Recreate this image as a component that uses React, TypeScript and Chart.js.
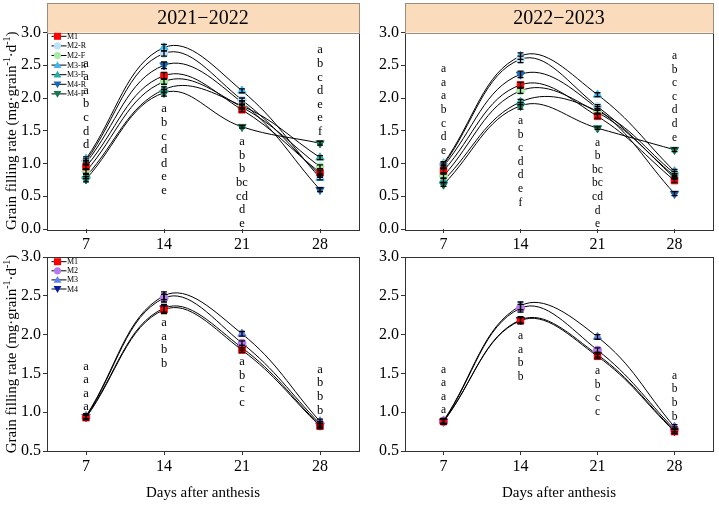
import { useEffect, useRef } from "react";
import { Chart, registerables } from "chart.js";

Chart.register(...registerables);

const FONT = "'Liberation Serif', 'Times New Roman', serif";

// Sampling days after anthesis
const days = [7, 14, 21, 28];
const seasonTitles = ["2021−2022", "2022−2023"];
const yTicksTop = [0, 0.5, 1, 1.5, 2, 2.5, 3];
const yTicksBottom = [0.5, 1, 1.5, 2, 2.5, 3];

// 2021–2022, residue sub-treatments (mg·grain-1·d-1)
const m1_2122 = [0.95, 2.34, 1.82, 0.86];
const m2r_2122 = [1.04, 2.68, 1.97, 0.82];
const m2f_2122 = [0.88, 2.25, 1.86, 0.95];
const m3r_2122 = [1.07, 2.77, 2.11, 0.78];
const m3f_2122 = [0.8, 2.13, 1.88, 1.09];
const m4r_2122 = [1.01, 2.5, 1.93, 0.6];
const m4f_2122 = [0.76, 2.08, 1.56, 1.31];

const m1_2122_se = [0.03, 0.05, 0.03, 0.03];
const m2r_2122_se = [0.03, 0.04, 0.03, 0.03];
const m2f_2122_se = [0.03, 0.04, 0.03, 0.03];
const m3r_2122_se = [0.03, 0.05, 0.03, 0.03];
const m3f_2122_se = [0.03, 0.04, 0.03, 0.03];
const m4r_2122_se = [0.03, 0.05, 0.03, 0.03];
const m4f_2122_se = [0.04, 0.05, 0.02, 0.03];

// 2022–2023, residue sub-treatments
const m1_2223 = [0.89, 2.2, 1.72, 0.74];
const m2r_2223 = [0.98, 2.59, 1.87, 0.78];
const m2f_2223 = [0.81, 2.11, 1.78, 0.81];
const m3r_2223 = [1.0, 2.64, 2.05, 0.88];
const m3f_2223 = [0.74, 1.94, 1.8, 0.85];
const m4r_2223 = [0.96, 2.36, 1.84, 0.54];
const m4f_2223 = [0.68, 1.88, 1.54, 1.21];

const m1_2223_se = [0.03, 0.04, 0.03, 0.03];
const m2r_2223_se = [0.03, 0.05, 0.03, 0.02];
const m2f_2223_se = [0.03, 0.04, 0.03, 0.03];
const m3r_2223_se = [0.03, 0.05, 0.03, 0.03];
const m3f_2223_se = [0.03, 0.04, 0.03, 0.03];
const m4r_2223_se = [0.03, 0.05, 0.03, 0.03];
const m4f_2223_se = [0.03, 0.05, 0.02, 0.03];

// 2021–2022, main treatments
const t1_2122 = [0.93, 2.32, 1.8, 0.82];
const t2_2122 = [0.94, 2.47, 1.89, 0.85];
const t3_2122 = [0.95, 2.5, 2.01, 0.88];
const t4_2122 = [0.94, 2.34, 1.83, 0.83];

const t1_2122_se = [0.03, 0.05, 0.03, 0.03];
const t2_2122_se = [0.03, 0.05, 0.03, 0.03];
const t3_2122_se = [0.03, 0.05, 0.03, 0.03];
const t4_2122_se = [0.03, 0.05, 0.03, 0.03];

// 2022–2023, main treatments
const t1_2223 = [0.88, 2.18, 1.72, 0.75];
const t2_2223 = [0.88, 2.34, 1.8, 0.78];
const t3_2223 = [0.89, 2.37, 1.97, 0.81];
const t4_2223 = [0.88, 2.19, 1.74, 0.76];

const t1_2223_se = [0.03, 0.04, 0.03, 0.03];
const t2_2223_se = [0.03, 0.05, 0.03, 0.03];
const t3_2223_se = [0.03, 0.05, 0.03, 0.03];
const t4_2223_se = [0.03, 0.04, 0.03, 0.03];

// Significance letters per sampling day
const letters_sub_2122 = [
  ["a", "a", "a", "b", "c", "d", "d"],
  ["a", "b", "c", "d", "d", "e", "e"],
  ["a", "b", "b", "bc", "cd", "d", "e"],
  ["a", "b", "c", "d", "e", "e", "f"],
];
const letters_sub_2223 = [
  ["a", "a", "a", "b", "c", "d", "e"],
  ["a", "b", "c", "d", "d", "e", "f"],
  ["a", "b", "bc", "bc", "cd", "d", "e"],
  ["a", "b", "c", "c", "d", "d", "e"],
];
const letters_main_2122 = [
  ["a", "a", "a", "a"],
  ["a", "a", "b", "b"],
  ["a", "b", "c", "c"],
  ["a", "b", "b", "b"],
];
const letters_main_2223 = [
  ["a", "a", "a", "a"],
  ["a", "a", "b", "b"],
  ["a", "b", "c", "c"],
  ["a", "b", "b", "b"],
];

type Shape = "square" | "circle" | "triangle" | "down";

interface Series {
  label: string;
  values: number[];
  errors: number[];
  color: string;
  shape: Shape;
}

interface PanelSpec {
  key: string;
  box: { x: number; y: number; w: number; h: number };
  area: { left: number; top: number; right: number; bottom: number };
  yMin: number;
  yTicks: number[];
  series: Series[];
  letters: string[][];
  letterTop: number[];
  letterSize: number;
  title?: string;
  yTitle: boolean;
  xTitle: boolean;
  legend: boolean;
  legendStep: number;
  legendFirst: number;
}

const SUB_STYLE: { color: string; shape: Shape }[] = [
  { color: "#FF0000", shape: "square" },
  { color: "#BCE2F7", shape: "circle" },
  { color: "#A6EBA6", shape: "circle" },
  { color: "#3DB8F5", shape: "triangle" },
  { color: "#22AFA5", shape: "triangle" },
  { color: "#1768B8", shape: "down" },
  { color: "#127A55", shape: "down" },
];
const MAIN_STYLE: { color: string; shape: Shape }[] = [
  { color: "#FF0000", shape: "square" },
  { color: "#B77BF0", shape: "circle" },
  { color: "#5D82F5", shape: "triangle" },
  { color: "#0A1AA8", shape: "down" },
];

const subLabels = ["M1", "M2-R", "M2-F", "M3-R", "M3-F", "M4-R", "M4-F"];
const mainLabels = ["M1", "M2", "M3", "M4"];

function makeSeries(
  labels: string[],
  styles: { color: string; shape: Shape }[],
  values: number[][],
  errors: number[][]
): Series[] {
  return labels.map((label, i) => ({
    label,
    values: values[i],
    errors: errors[i],
    color: styles[i].color,
    shape: styles[i].shape,
  }));
}

const panels: PanelSpec[] = [
  {
    key: "tl",
    box: { x: 0, y: 0, w: 362, h: 255 },
    area: { left: 47, top: 32.5, right: 359, bottom: 229 },
    yMin: 0,
    yTicks: yTicksTop,
    series: makeSeries(
      subLabels,
      SUB_STYLE,
      [m1_2122, m2r_2122, m2f_2122, m3r_2122, m3f_2122, m4r_2122, m4f_2122],
      [m1_2122_se, m2r_2122_se, m2f_2122_se, m3r_2122_se, m3f_2122_se, m4r_2122_se, m4f_2122_se]
    ),
    letters: letters_sub_2122,
    letterTop: [2.53, 1.83, 1.33, 2.73],
    letterSize: 12.5,
    title: seasonTitles[0],
    yTitle: true,
    xTitle: false,
    legend: true,
    legendStep: 9.6,
    legendFirst: 3.8,
  },
  {
    key: "tr",
    box: { x: 362, y: 0, w: 357, h: 255 },
    area: { left: 43, top: 32.5, right: 351, bottom: 229 },
    yMin: 0,
    yTicks: yTicksTop,
    series: makeSeries(
      subLabels,
      SUB_STYLE,
      [m1_2223, m2r_2223, m2f_2223, m3r_2223, m3f_2223, m4r_2223, m4f_2223],
      [m1_2223_se, m2r_2223_se, m2f_2223_se, m3r_2223_se, m3f_2223_se, m4r_2223_se, m4f_2223_se]
    ),
    letters: letters_sub_2223,
    letterTop: [2.44, 1.65, 1.32, 2.64],
    letterSize: 11.5,
    title: seasonTitles[1],
    yTitle: false,
    xTitle: false,
    legend: false,
    legendStep: 0,
    legendFirst: 0,
  },
  {
    key: "bl",
    box: { x: 0, y: 240, w: 362, h: 266 },
    area: { left: 47, top: 17, right: 359, bottom: 211 },
    yMin: 0.5,
    yTicks: yTicksBottom,
    series: makeSeries(
      mainLabels,
      MAIN_STYLE,
      [t1_2122, t2_2122, t3_2122, t4_2122],
      [t1_2122_se, t2_2122_se, t3_2122_se, t4_2122_se]
    ),
    letters: letters_main_2122,
    letterTop: [1.59, 2.15, 1.65, 1.55],
    letterSize: 12.5,
    yTitle: true,
    xTitle: true,
    legend: true,
    legendStep: 9.1,
    legendFirst: 4.7,
  },
  {
    key: "br",
    box: { x: 362, y: 240, w: 357, h: 266 },
    area: { left: 43, top: 17, right: 351, bottom: 211 },
    yMin: 0.5,
    yTicks: yTicksBottom,
    series: makeSeries(
      mainLabels,
      MAIN_STYLE,
      [t1_2223, t2_2223, t3_2223, t4_2223],
      [t1_2223_se, t2_2223_se, t3_2223_se, t4_2223_se]
    ),
    letters: letters_main_2223,
    letterTop: [1.55, 1.98, 1.53, 1.47],
    letterSize: 11.5,
    yTitle: false,
    xTitle: true,
    legend: false,
    legendStep: 0,
    legendFirst: 0,
  },
];

function drawMarker(ctx: CanvasRenderingContext2D, shape: Shape, x: number, y: number, r: number, color: string) {
  ctx.save();
  ctx.fillStyle = color;
  ctx.beginPath();
  if (shape === "square") {
    ctx.rect(x - r, y - r, 2 * r, 2 * r);
  } else if (shape === "circle") {
    ctx.arc(x, y, r, 0, Math.PI * 2);
  } else if (shape === "triangle") {
    ctx.moveTo(x, y - r * 1.1);
    ctx.lineTo(x + r * 1.1, y + r * 0.8);
    ctx.lineTo(x - r * 1.1, y + r * 0.8);
    ctx.closePath();
  } else {
    ctx.moveTo(x, y + r * 1.1);
    ctx.lineTo(x + r * 1.1, y - r * 0.8);
    ctx.lineTo(x - r * 1.1, y - r * 0.8);
    ctx.closePath();
  }
  ctx.fill();
  ctx.restore();
}

function drawYTitle(ctx: CanvasRenderingContext2D, cx: number, cy: number) {
  const parts: [string, boolean][] = [
    ["Grain filling rate (mg·grain", false],
    ["-1", true],
    ["·d", false],
    ["-1", true],
    [")", false],
  ];
  const base = `15px ${FONT}`;
  const sup = `10px ${FONT}`;
  ctx.save();
  ctx.translate(cx, cy);
  ctx.rotate(-Math.PI / 2);
  ctx.fillStyle = "#000";
  ctx.textBaseline = "middle";
  ctx.textAlign = "left";
  let total = 0;
  for (const [t, s] of parts) {
    ctx.font = s ? sup : base;
    total += ctx.measureText(t).width;
  }
  let x = -total / 2;
  for (const [t, s] of parts) {
    ctx.font = s ? sup : base;
    ctx.fillText(t, x, s ? -5 : 0);
    x += ctx.measureText(t).width;
  }
  ctx.restore();
}

function buildChart(canvas: HTMLCanvasElement, p: PanelSpec): Chart {
  const datasets = p.series.map((s) => ({
    label: s.label,
    data: days.map((d, i) => ({ x: d, y: s.values[i] })),
    borderColor: "#000",
    borderWidth: 1,
    tension: 0.4,
    fill: false,
    pointStyle: s.shape === "square" ? "rect" : s.shape === "circle" ? "circle" : "triangle",
    pointRotation: s.shape === "down" ? 180 : 0,
    pointRadius: s.shape === "square" ? 4.6 : s.shape === "circle" ? 4 : 4.8,
    pointBackgroundColor: s.color,
    pointBorderColor: s.color,
    pointBorderWidth: 1,
  }));

  const decor = {
    id: "decor",
    afterDatasetsDraw(chart: Chart) {
      const ctx = chart.ctx;
      const ys = chart.scales.y;
      ctx.save();
      ctx.strokeStyle = "#000";
      ctx.lineWidth = 1.3;
      p.series.forEach((s, di) => {
        const meta = chart.getDatasetMeta(di);
        meta.data.forEach((pt: any, i: number) => {
          const v = s.values[i];
          const e = s.errors[i];
          const x = pt.x;
          const y1 = ys.getPixelForValue(v + e);
          const y2 = ys.getPixelForValue(v - e);
          ctx.beginPath();
          ctx.moveTo(x, y1);
          ctx.lineTo(x, y2);
          ctx.moveTo(x - 3, y1);
          ctx.lineTo(x + 3, y1);
          ctx.moveTo(x - 3, y2);
          ctx.lineTo(x + 3, y2);
          ctx.stroke();
        });
      });
      ctx.restore();
    },
    afterDraw(chart: Chart) {
      const ctx = chart.ctx;
      const a = chart.chartArea;
      const xs = chart.scales.x;
      const ys = chart.scales.y;
      ctx.save();

      // Frame
      ctx.strokeStyle = "#333";
      ctx.lineWidth = 1;
      ctx.strokeRect(Math.round(a.left) + 0.5, Math.round(a.top) + 0.5, Math.round(a.right - a.left), Math.round(a.bottom - a.top));

      // Season header band
      if (p.title) {
        const top = 3;
        ctx.fillStyle = "#FADBBB";
        ctx.fillRect(a.left, top, a.right - a.left, a.top - top);
        ctx.strokeStyle = "#9C8C7C";
        ctx.strokeRect(Math.round(a.left) + 0.5, top + 0.5, Math.round(a.right - a.left), Math.round(a.top - top));
        ctx.fillStyle = "#000";
        ctx.font = `20px ${FONT}`;
        ctx.textAlign = "center";
        ctx.textBaseline = "middle";
        ctx.fillText(p.title, (a.left + a.right) / 2, (top + a.top) / 2 + 1);
      }

      // Significance letters
      ctx.fillStyle = "#000";
      ctx.font = `${p.letterSize}px ${FONT}`;
      ctx.textAlign = "center";
      ctx.textBaseline = "middle";
      days.forEach((d, i) => {
        const x = xs.getPixelForValue(d);
        const y0 = ys.getPixelForValue(p.letterTop[i]);
        p.letters[i].forEach((t, k) => {
          ctx.fillText(t, x, y0 + k * 13.6);
        });
      });

      // Legend
      if (p.legend) {
        ctx.font = `8px ${FONT}`;
        ctx.textAlign = "left";
        ctx.textBaseline = "middle";
        p.series.forEach((s, i) => {
          const y = a.top + p.legendFirst + i * p.legendStep;
          ctx.strokeStyle = "#000";
          ctx.lineWidth = 1;
          ctx.beginPath();
          ctx.moveTo(a.left + 4.5, y);
          ctx.lineTo(a.left + 19.5, y);
          ctx.stroke();
          drawMarker(ctx, s.shape, a.left + 10.5, y, s.shape === "square" ? 3.5 : 3.6, s.color);
          ctx.fillStyle = "#000";
          ctx.fillText(s.label, a.left + 20, y + 0.5);
        });
      }

      // Axis titles
      if (p.yTitle) drawYTitle(ctx, 12, (a.top + a.bottom) / 2);
      if (p.xTitle) {
        ctx.fillStyle = "#000";
        ctx.font = `15px ${FONT}`;
        ctx.textAlign = "center";
        ctx.textBaseline = "middle";
        ctx.fillText("Days after anthesis", (a.left + a.right) / 2, a.bottom + 42);
      }
      ctx.restore();
    },
  };

  const tickFont = { family: FONT, size: 16 };

  return new Chart(canvas, {
    type: "line",
    data: { datasets: datasets as any },
    options: {
      animation: false,
      responsive: false,
      devicePixelRatio: 1,
      layout: {
        autoPadding: false,
        padding: { left: 0, top: p.area.top, right: p.box.w - p.area.right, bottom: 0 },
      },
      plugins: {
        legend: { display: false },
        tooltip: { enabled: false },
        title: { display: false },
      },
      scales: {
        x: {
          type: "linear",
          min: 3.5,
          max: 31.5,
          afterBuildTicks: (s: any) => {
            s.ticks = days.map((v) => ({ value: v }));
          },
          afterFit: (s: any) => {
            s.height = p.box.h - p.area.bottom;
          },
          grid: { display: true, drawOnChartArea: false, drawTicks: true, tickLength: 4, tickColor: "#333" },
          border: { display: false },
          ticks: { font: tickFont, color: "#000", padding: 2, maxRotation: 0, autoSkip: false },
        },
        y: {
          type: "linear",
          min: p.yMin,
          max: 3,
          afterBuildTicks: (s: any) => {
            s.ticks = p.yTicks.map((v) => ({ value: v }));
          },
          afterFit: (s: any) => {
            s.width = p.area.left;
          },
          grid: { display: true, drawOnChartArea: false, drawTicks: true, tickLength: 4, tickColor: "#333" },
          border: { display: false },
          ticks: {
            font: tickFont,
            color: "#000",
            padding: 2,
            autoSkip: false,
            callback: (v: any) => Number(v).toFixed(1),
          },
        },
      },
    },
    plugins: [decor],
  } as any);
}

function Panel({ p }: { p: PanelSpec }) {
  const ref = useRef<HTMLCanvasElement>(null);
  useEffect(() => {
    if (!ref.current) return;
    const chart = buildChart(ref.current, p);
    return () => chart.destroy();
  }, [p]);
  return (
    <canvas
      ref={ref}
      width={p.box.w}
      height={p.box.h}
      style={{ position: "absolute", left: p.box.x, top: p.box.y, width: p.box.w, height: p.box.h }}
    />
  );
}

export default function App() {
  return (
    <div style={{ position: "fixed", left: 0, top: 0, width: 719, height: 506, background: "#fff", overflow: "hidden" }}>
      {panels.map((p) => (
        <Panel key={p.key} p={p} />
      ))}
    </div>
  );
}
